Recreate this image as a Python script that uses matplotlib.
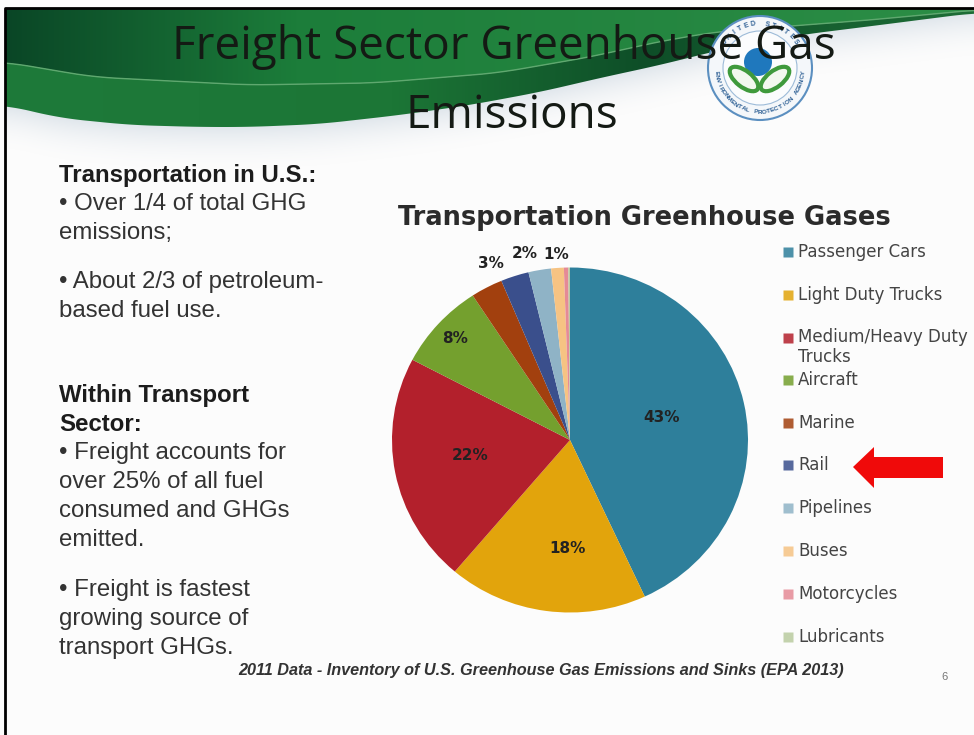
import numpy as np
import matplotlib
matplotlib.use("Agg")
import matplotlib.pyplot as plt
from matplotlib.patches import Polygon, Circle, Ellipse

categories = ["Passenger Cars", "Light Duty Trucks", "Medium/Heavy Duty\nTrucks", "Aircraft", "Marine",
              "Rail", "Pipelines", "Buses", "Motorcycles", "Lubricants"]
shares = [43.1, 18.1, 21.5, 8.1, 2.9, 2.55, 2.05, 1.15, 0.4, 0.15]
pie_labels = ["43%", "18%", "22%", "8%", "", "3%", "2%", "1%", "", ""]
colors = ["#2e7f9b", "#e2a40c", "#b3202c", "#74a02e", "#a2400e", "#3a4f8c", "#8fb3c6", "#f6c383", "#e58a96", "#b9cba0"]
legend_y = [252, 295, 338, 380, 423, 465, 508, 551, 594, 637]
# label placement: radius and angle shift from the wedge middle
label_r = {0: 0.534, 1: 0.628, 2: 0.57, 3: 0.873, 5: 1.115, 6: 1.11, 7: 1.078}
label_shift = {0: -2, 1: -6.7, 2: 2, 3: 0, 5: -5.4, 6: -3.4, 7: 0}

W, H = 974, 735
fig = plt.figure(figsize=(W / 100, H / 100), dpi=100, facecolor="#fcfcfc")

# slide background, in pixels
bg = fig.add_axes([0, 0, 1, 1])
bg.set_xlim(0, W)
bg.set_ylim(H, 0)
bg.axis("off")


def smooth_curve(knot_x, knot_y, grid):
    y = np.interp(grid, knot_x, knot_y)
    pad = 25
    padded = np.r_[np.full(pad, y[0]), y, np.full(pad, y[-1])]
    return np.convolve(padded, np.ones(2 * pad + 1) / (2 * pad + 1), mode="valid")


grid = np.arange(5, W + 1)
edge = smooth_curve([5, 60, 130, 200, 250, 320, 400, 470, 540, 600, 660, 720, 800, 880, 974],
                    [105, 118, 125, 127, 127, 124, 115, 105, 92, 78, 65, 50, 35, 25, 13], grid)
ridge = smooth_curve([5, 93, 248, 373, 497, 590, 652, 714, 870, 974],
                     [62, 77, 85, 83, 73, 57, 43, 32, 20, 10], grid)

# soft shadow under the swoosh
Y, X = np.mgrid[8:190, 5:W]
dist = Y - np.interp(X, grid, edge)
rgba = np.ones(dist.shape + (4,))
rgba[..., :3] = [0.80, 0.84, 0.88]
rgba[..., 3] = np.clip(1 - dist / 45, 0, 1) ** 2 * 0.55
bg.imshow(rgba, extent=[5, W, 190, 8], aspect="auto", zorder=1)

# green swoosh, upper part
upper = Polygon(np.r_[np.column_stack([grid, ridge]), [[W, 8], [5, 8]]], closed=True, fc="none", ec="none", zorder=2)
bg.add_patch(upper)
t = np.linspace(0, 1, 400)
grad = np.zeros((1, 400, 3))
grad[0, :, 0] = np.interp(t, [0, 0.3, 1], [10, 28, 44]) / 255
grad[0, :, 1] = np.interp(t, [0, 0.3, 1], [70, 125, 142]) / 255
grad[0, :, 2] = np.interp(t, [0, 0.3, 1], [38, 58, 70]) / 255
im = bg.imshow(grad, extent=[5, W, 127, 8], aspect="auto", zorder=2)
im.set_clip_path(upper)

# lower band, darkens where it turns upwards
lower = Polygon(np.r_[np.column_stack([grid, edge]), np.column_stack([grid, ridge])[::-1]], closed=True,
                fc="none", ec="none", zorder=3)
bg.add_patch(lower)
band = np.zeros((1, 400, 3))
band[0, :, 0] = np.interp(t, [0, 0.4, 0.66, 1], [30, 28, 14, 30]) / 255
band[0, :, 1] = np.interp(t, [0, 0.4, 0.66, 1], [122, 118, 78, 110]) / 255
band[0, :, 2] = np.interp(t, [0, 0.4, 0.66, 1], [58, 54, 40, 55]) / 255
im2 = bg.imshow(band, extent=[5, W, 127, 8], aspect="auto", zorder=3)
im2.set_clip_path(lower)
bg.plot(grid, ridge, color="#5fa86f", lw=1, zorder=4)

# slide edge
bg.plot([5, 5, 974], [735, 8, 8], color="black", lw=2, zorder=5)

# EPA seal
seal_x, seal_y = 760, 68
bg.add_patch(Circle((seal_x, seal_y), 52, fc="#f4f7fa", ec="#5b8fc0", lw=1.5, zorder=6))
bg.add_patch(Circle((seal_x, seal_y), 37, fc="#fbfcfd", ec="#9dbbd8", lw=0.8, zorder=6))
bg.add_patch(Circle((758, 62), 14, fc="#1f78bd", ec="none", zorder=6))
bg.add_patch(Ellipse((744, 79), 34, 16, angle=38, fc="#f2f8ee", ec="#3f9a3c", lw=3, zorder=7))
bg.add_patch(Ellipse((775, 79), 34, 16, angle=-38, fc="#f2f8ee", ec="#3f9a3c", lw=3, zorder=7))
ring_top = "UNITED STATES"
for i, ch in enumerate(ring_top):
    ang = np.deg2rad(90 - (i - (len(ring_top) - 1) / 2) * 9)
    bg.text(seal_x + 44 * np.cos(ang), seal_y - 44 * np.sin(ang), ch, rotation=np.rad2deg(ang) - 90,
            ha="center", va="center", fontsize=5, fontweight="bold", color="#2d5f94",
            family="Liberation Sans", zorder=7)
ring_low = "ENVIRONMENTAL PROTECTION AGENCY"
for i, ch in enumerate(ring_low):
    ang = np.deg2rad(270 + (i - (len(ring_low) - 1) / 2) * 5.6)
    bg.text(seal_x + 44 * np.cos(ang), seal_y - 44 * np.sin(ang), ch, rotation=np.rad2deg(ang) + 90,
            ha="center", va="center", fontsize=4.6, fontweight="bold", color="#2d5f94",
            family="Liberation Sans", zorder=7)

# title
bg.text(504, 47, "Freight Sector Greenhouse Gas", ha="center", va="center", fontsize=33,
        family="Open Sans", color="#141a14", zorder=8)
bg.text(512, 116, "Emissions", ha="center", va="center", fontsize=33,
        family="Open Sans", color="#141a14", zorder=8)

# left hand text
txt = dict(family="Liberation Sans", fontsize=17.3, color="#333333", va="center", ha="left", zorder=8)
bold = dict(txt, fontweight="bold", color="#1c1c1c")
bg.text(59, 175, "Transportation in U.S.:", **bold)
bg.text(59, 204, "\u2022 Over 1/4 of total GHG", **txt)
bg.text(59, 233, "emissions;", **txt)
bg.text(59, 282, "\u2022 About 2/3 of petroleum-", **txt)
bg.text(59, 311, "based fuel use.", **txt)
bg.text(59, 395, "Within Transport", **bold)
bg.text(59, 424, "Sector:", **bold)
bg.text(59, 453, "\u2022 Freight accounts for", **txt)
bg.text(59, 482, "over 25% of all fuel", **txt)
bg.text(59, 511, "consumed and GHGs", **txt)
bg.text(59, 540, "emitted.", **txt)
bg.text(59, 590, "\u2022 Freight is fastest", **txt)
bg.text(59, 619, "growing source of", **txt)
bg.text(59, 648, "transport GHGs.", **txt)

# footer
bg.text(541, 671, "2011 Data - Inventory of U.S. Greenhouse Gas Emissions and Sinks (EPA 2013)",
        ha="center", va="center", family="Liberation Sans", fontsize=11.7, fontweight="bold",
        style="italic", color="#333333", zorder=8)
bg.text(945, 677, "6", ha="center", va="center", family="Liberation Sans", fontsize=8, color="#777777")

# chart title
bg.text(644, 218, "Transportation Greenhouse Gases", ha="center", va="center", family="DejaVu Sans",
        fontsize=18.5, fontweight="bold", color="#2b2b2b", zorder=8)

# pie, slightly squashed like the stretched slide
cx, cy, rx, ry = 570, 440, 178, 172.5
pax = fig.add_axes([(cx - rx) / W, 1 - (cy + ry) / H, 2 * rx / W, 2 * ry / H])
wedges, _ = pax.pie(shares, colors=colors, startangle=90, counterclock=False, radius=1,
                    wedgeprops=dict(lw=0))
pax.set_aspect("auto")
pax.set_xlim(-1, 1)
pax.set_ylim(-1, 1)

# wedge labels
a0 = 0
for i, s in enumerate(shares):
    mid_a = (a0 + s / 2) * 3.6
    a0 += s
    if not pie_labels[i]:
        continue
    rr = label_r[i]
    ang = np.deg2rad(mid_a + label_shift[i])
    pax.text(rr * np.sin(ang), rr * np.cos(ang), pie_labels[i], ha="center", va="center",
             fontsize=11, fontweight="bold", family="DejaVu Sans", color="#222222", clip_on=False)

# legend
for c, lab, y in zip(colors, categories, legend_y):
    bg.plot([788], [y], marker="s", ms=6.5, color=c, mec="none", alpha=0.85, zorder=8)
    if "\n" in lab:
        first, second = lab.split("\n")
        bg.text(798, y - 1, first, ha="left", va="center", family="DejaVu Sans", fontsize=12, color="#444444")
        bg.text(798, y + 19, second, ha="left", va="center", family="DejaVu Sans", fontsize=12, color="#444444")
    else:
        bg.text(798, y, lab, ha="left", va="center", family="DejaVu Sans", fontsize=12, color="#444444")

# red arrow pointing at Rail
arrow_x = [943, 874, 874, 853, 874, 874, 943]
arrow_y = [457, 457, 447, 467, 488, 478, 478]
bg.add_patch(Polygon(np.column_stack([arrow_x, arrow_y]), closed=True, fc="#f00a0a", ec="none", zorder=9))

bg.set_xlim(0, W)
bg.set_ylim(H, 0)
fig.savefig("out.png", dpi=100, facecolor=fig.get_facecolor())
